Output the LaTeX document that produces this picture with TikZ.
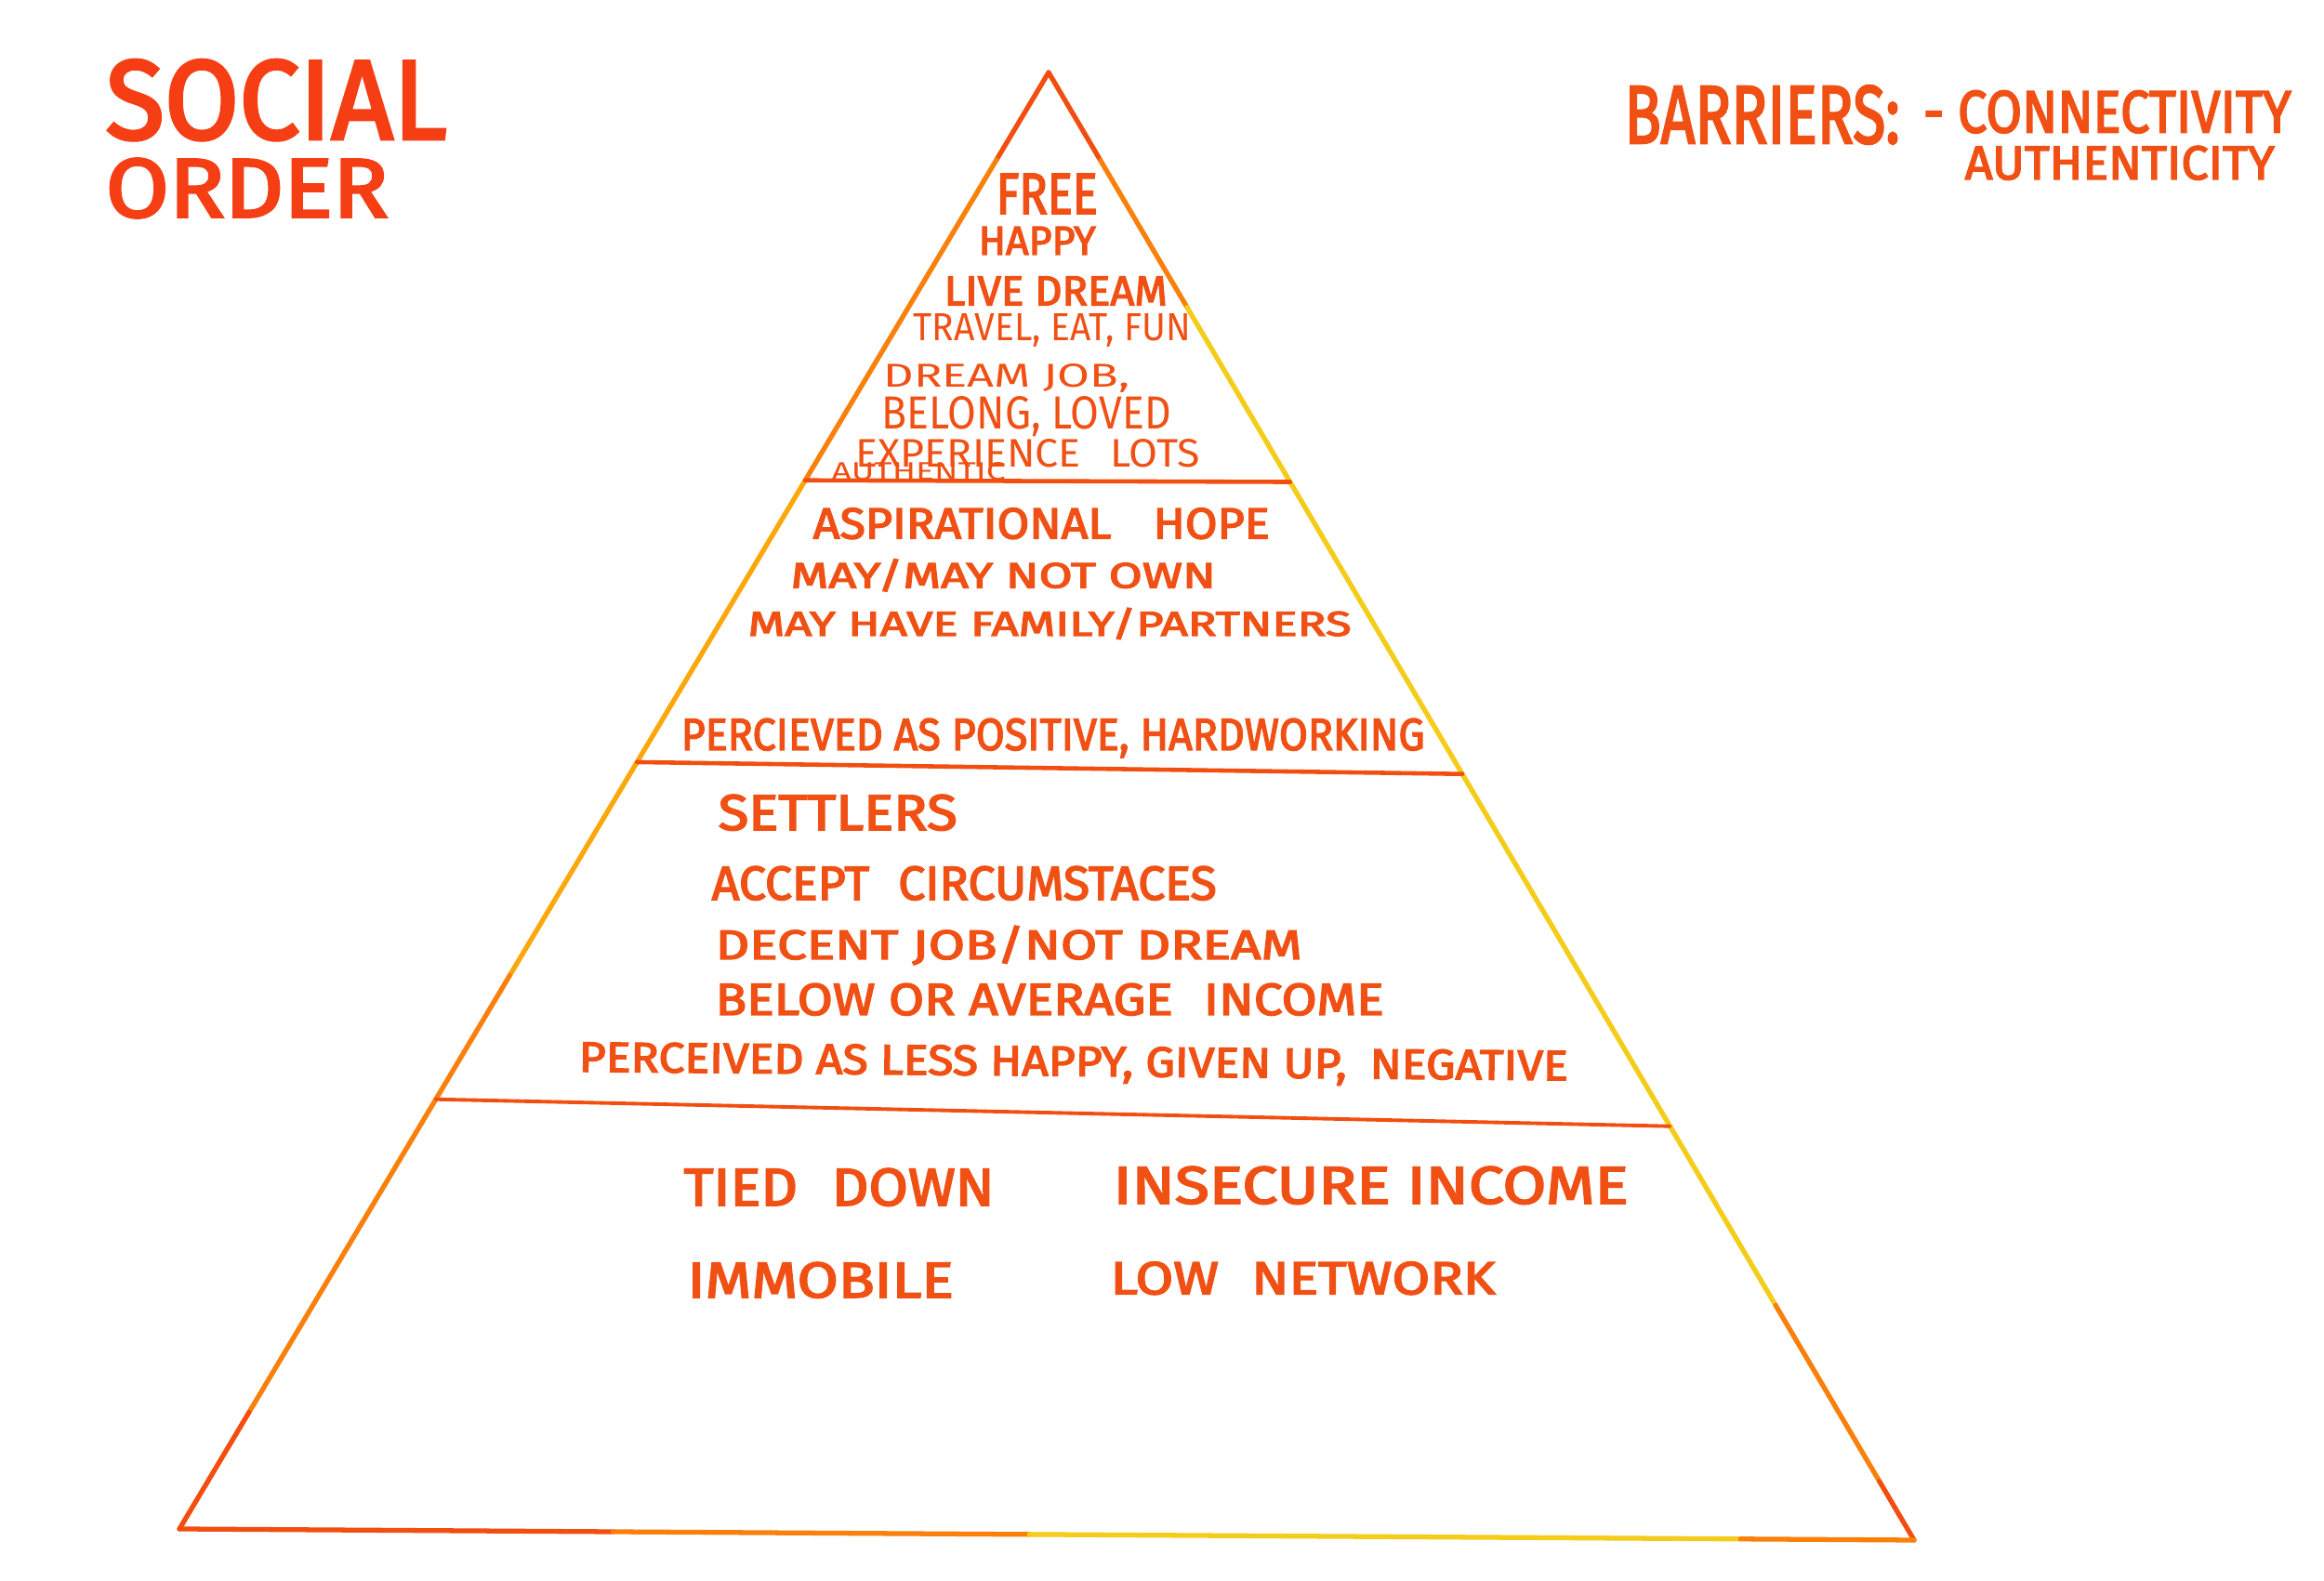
\documentclass[tikz,border=0pt]{standalone}
\usepackage{graphicx,xcolor}
\usepackage{fontspec}
\setmainfont{Fira Sans}
\newfontfamily\markerfont{Fira Sans}[FakeBold=3]
\definecolor{inkred}{RGB}{240,80,20}
\definecolor{titlered}{RGB}{246,62,20}
\definecolor{penred}{RGB}{242,78,16}
\definecolor{penorange}{RGB}{250,128,12}
\definecolor{penamber}{RGB}{252,168,12}
\definecolor{penyellow}{RGB}{244,204,26}
\usetikzlibrary{calc}
\newcommand{\hw}[3]{\resizebox{#1cm}{#2cm}{#3}}

\begin{document}
\begin{tikzpicture}[font=\markerfont,
  hand/.style={inner sep=0pt,anchor=base west,text=inkred},
  thinhand/.style={hand,font=\rmfamily\mdseries},
  edge/.style={line width=1.5pt,line cap=round},
  divider/.style={line width=1.3pt,penred,line cap=round}]
  \useasboundingbox[fill=white] (0,0) rectangle (25,17.01);
  \coordinate (apex) at (11.28,16.23);
  \coordinate (bl) at (1.93,0.56);
  \coordinate (br) at (20.59,0.44);
  \draw[edge,penred] (apex) -- ($(apex)!0.06!(bl)$);
  \draw[edge,penorange] ($(apex)!0.06!(bl)$) -- ($(apex)!0.28!(bl)$);
  \draw[edge,penamber] ($(apex)!0.28!(bl)$) -- ($(apex)!0.62!(bl)$);
  \draw[edge,penorange] ($(apex)!0.62!(bl)$) -- ($(apex)!0.92!(bl)$);
  \draw[edge,penred] ($(apex)!0.92!(bl)$) -- (bl);
  \draw[edge,penred] (apex) -- ($(apex)!0.06!(br)$);
  \draw[edge,penorange] ($(apex)!0.06!(br)$) -- ($(apex)!0.16!(br)$);
  \draw[edge,penyellow] ($(apex)!0.16!(br)$) -- ($(apex)!0.84!(br)$);
  \draw[edge,penorange] ($(apex)!0.84!(br)$) -- ($(apex)!0.96!(br)$);
  \draw[edge,penred] ($(apex)!0.96!(br)$) -- (br);
  \draw[edge,penred] (bl) -- ($(bl)!0.25!(br)$);
  \draw[edge,penorange] ($(bl)!0.25!(br)$) -- ($(bl)!0.49!(br)$);
  \draw[edge,penyellow] ($(bl)!0.49!(br)$) -- ($(bl)!0.9!(br)$);
  \draw[edge,penorange] ($(bl)!0.9!(br)$) -- (br);
  \draw[divider] ($(apex)!0.280!(bl)$) -- ($(apex)!0.279!(br)$);
  \draw[divider] ($(apex)!0.4735!(bl)$) -- ($(apex)!0.478!(br)$);
  \draw[divider,line width=1.1pt] ($(apex)!0.705!(bl)$) -- ($(apex)!0.718!(br)$);
  \node[hand,text=titlered] (social) at (1.13,15.515) {\hw{3.67}{0.85}{SOCIAL}};
  \node[hand,text=titlered] (order) at (1.13,14.675) {\hw{3.04}{0.63}{ORDER}};
  \node[hand] (barriers) at (17.47,15.47) {\hw{2.96}{0.62}{BARRIERS:}};
  \node[hand] (connectivity) at (20.68,15.585) {\hw{3.96}{0.45}{- CONNECTIVITY}};
  \node[hand] (authenticity) at (21.13,15.08) {\hw{3.33}{0.36}{AUTHENTICITY}};
  \node[hand] (free) at (10.71,14.71) {\hw{1.09}{0.43}{FREE}};
  \node[hand] (happy) at (10.52,14.27) {\hw{1.26}{0.30}{HAPPY}};
  \node[hand] (livedream) at (10.15,13.725) {\hw{2.40}{0.31}{LIVE DREAM}};
  \node[thinhand] (travel) at (9.82,13.345) {\hw{2.98}{0.29}{TRAVEL, EAT, FUN}};
  \node[thinhand] (dreamjob) at (9.50,12.845) {\hw{2.65}{0.25}{DREAM JOB,}};
  \node[thinhand] (belong) at (9.48,12.395) {\hw{3.11}{0.35}{BELONG, LOVED}};
  \node[thinhand] (experience) at (9.20,11.98) {\hw{3.70}{0.30}{EXPERIENCE\hspace{0.7em}LOTS}};
  \node[thinhand] (authentic) at (8.94,11.84) {\hw{1.87}{0.19}{AUTHENTIC}};
  \node[hand] (aspirational) at (8.74,11.215) {\hw{4.91}{0.33}{ASPIRATIONAL\hspace{0.9em}HOPE}};
  \node[hand] (mayown) at (8.50,10.685) {\hw{4.57}{0.31}{MAY/MAY NOT OWN}};
  \node[hand] (family) at (8.04,10.17) {\hw{6.49}{0.30}{MAY HAVE FAMILY/PARTNERS}};
  \node[hand] (positive) at (7.32,8.94) {\hw{8.00}{0.34}{PERCIEVED AS POSITIVE, HARDWORKING}};
  \node[hand] (settlers) at (7.72,8.08) {\hw{2.57}{0.38}{SETTLERS}};
  \node[hand] (accept) at (7.65,7.33) {\hw{5.43}{0.36}{ACCEPT\hspace{0.6em}CIRCUMSTACES}};
  \node[hand] (decentjob) at (7.69,6.69) {\hw{6.31}{0.36}{DECENT JOB/NOT DREAM}};
  \node[hand] (belowavg) at (7.69,6.09) {\hw{7.19}{0.34}{BELOW OR AVERAGE\hspace{0.6em}INCOME}};
  \node[hand,rotate=-0.5] (lesshappy) at (6.22,5.48) {\hw{10.64}{0.32}{PERCEIVED AS LESS HAPPY, GIVEN UP,\hspace{0.5em}NEGATIVE}};
  \node[hand] (tied) at (7.35,4.04) {\hw{3.34}{0.40}{TIED\hspace{0.6em}DOWN}};
  \node[hand] (insecure) at (11.97,4.06) {\hw{5.54}{0.40}{INSECURE INCOME}};
  \node[hand] (immobile) at (7.39,3.05) {\hw{2.86}{0.38}{IMMOBILE}};
  \node[hand] (network) at (11.94,3.085) {\hw{4.14}{0.35}{LOW\hspace{0.6em}NETWORK}};
\end{tikzpicture}
\end{document}
